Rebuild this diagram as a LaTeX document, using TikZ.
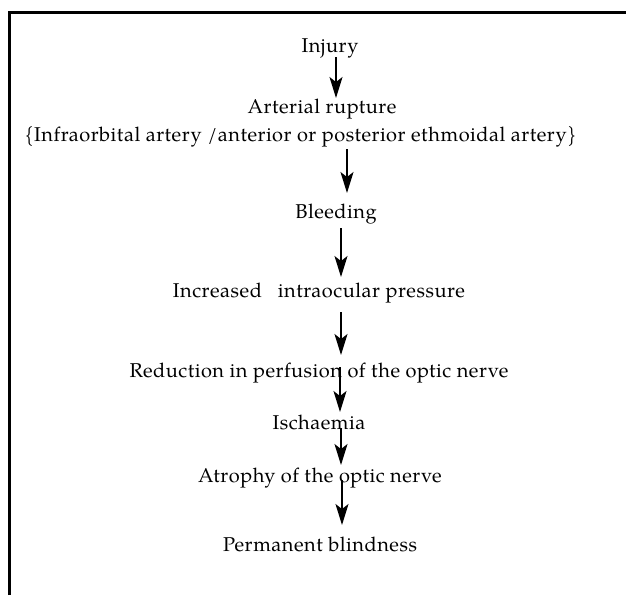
\documentclass[tikz,border=0pt]{standalone}
\usepackage{fontspec}
\setmainfont{TeX Gyre Pagella}[LetterSpace=2.5]
\usetikzlibrary{arrows.meta}
\begin{document}
\begin{tikzpicture}[x=1pt,y=-1pt,
  lbl/.style={anchor=base,inner sep=0pt,font=\fontsize{20}{24}\selectfont},
  arr/.style={line width=1.3pt,-{Stealth[length=21pt,width=13pt,inset=5pt]}},
  frame/.style={line width=3pt}]
\useasboundingbox (0,0) rectangle (626,595);
\draw[frame] (9.5,595) -- (9.5,12) -- (626,12);
\node[lbl] (injury) at (330,52) {Injury};
\node[lbl] (rupture) at (322,113) {Arterial rupture};
\node[lbl] (artery) at (300.5,141) {\{Infraorbital artery\hspace{6pt}/anterior or posterior ethmoidal artery\}};
\node[lbl] (bleeding) at (336,218) {Bleeding};
\node[lbl] (iop) at (319,297) {Increased\hspace{16pt}intraocular pressure};
\node[lbl] (perf) at (319,377) {Reduction in perfusion of the optic nerve};
\node[lbl] (isch) at (319,429) {Ischaemia};
\node[lbl] (atrophy) at (320,482) {Atrophy of the optic nerve};
\node[lbl] (blind) at (320,551) {Permanent blindness};
\coordinate (a1s) at (336,57);  \coordinate (a1e) at (336,98);
\coordinate (a2s) at (347,149); \coordinate (a2e) at (347,193);
\coordinate (a3s) at (341,228); \coordinate (a3e) at (341,277);
\coordinate (a4s) at (341,312); \coordinate (a4e) at (341,355);
\coordinate (a5s) at (340,367); \coordinate (a5e) at (340,412);
\coordinate (a6s) at (341,428); \coordinate (a6e) at (341,465);
\coordinate (a7s) at (342,480); \coordinate (a7e) at (342,525);
\draw[arr] (a1s) -- (a1e);
\draw[arr] (a2s) -- (a2e);
\draw[arr] (a3s) -- (a3e);
\draw[arr] (a4s) -- (a4e);
\draw[arr] (a5s) -- (a5e);
\draw[arr] (a6s) -- (a6e);
\draw[arr] (a7s) -- (a7e);
\end{tikzpicture}
\end{document}
